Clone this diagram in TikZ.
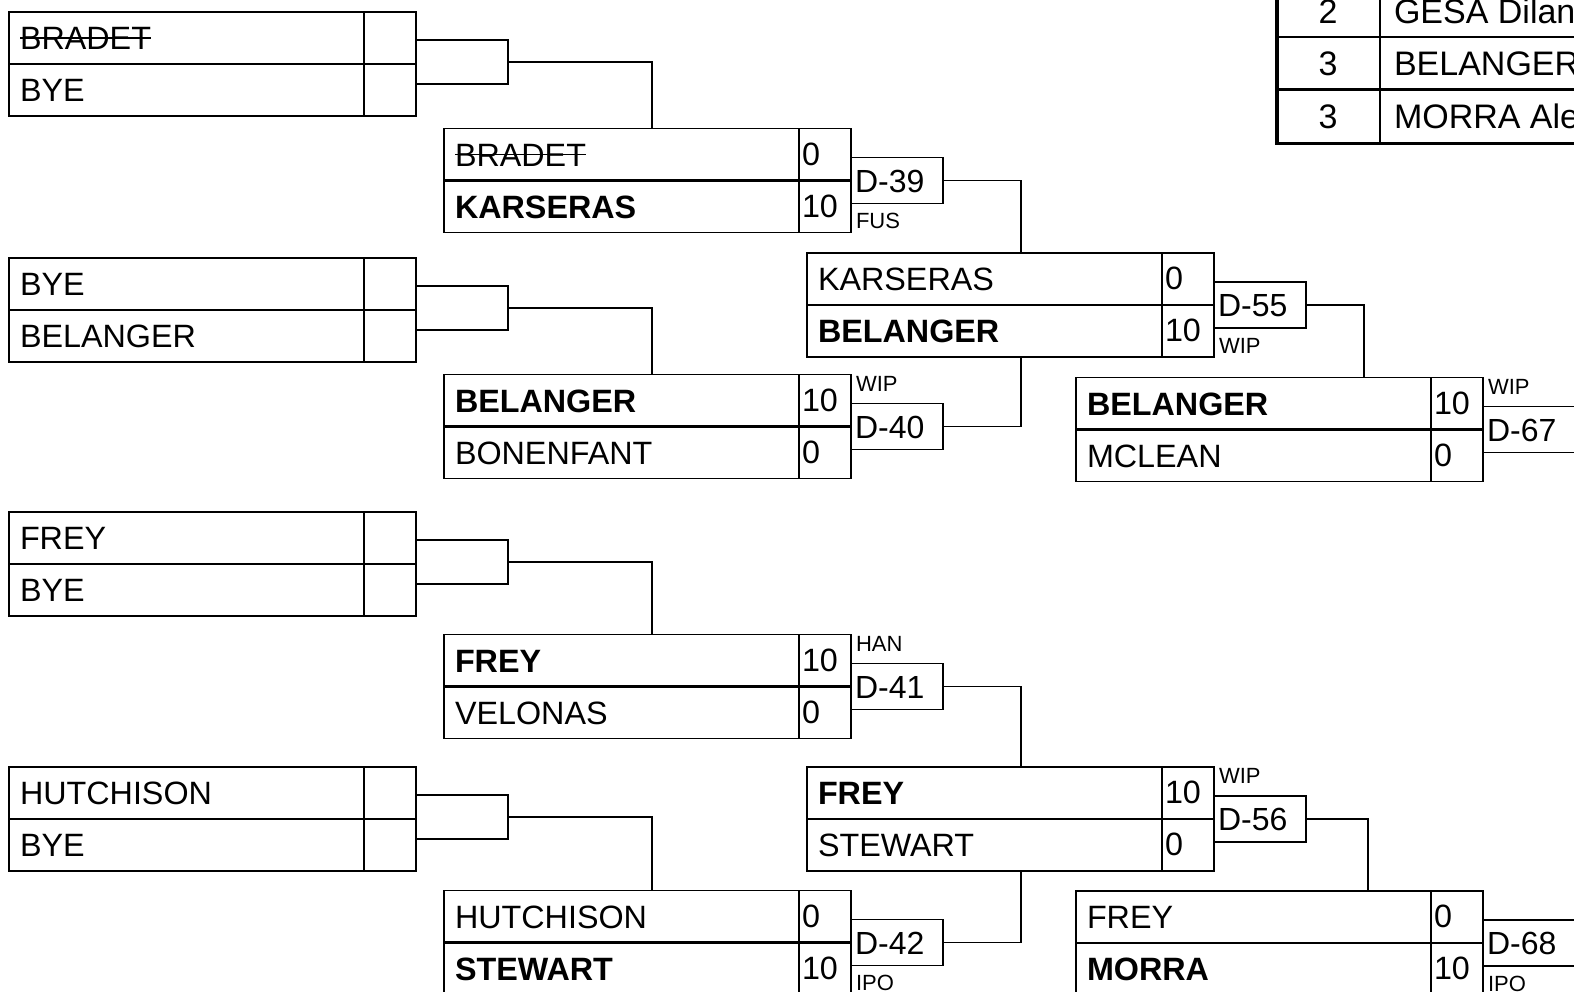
\documentclass[tikz,border=0pt]{standalone}
\usepackage{fontspec}
\setmainfont{Liberation Sans}
\usetikzlibrary{calc}
\tikzset{
 boxline/.style={line width=1.6pt},
 midline/.style={line width=2.1pt},
 conn/.style={line width=1.4pt},
 strikeline/.style={line width=1.8pt},
 nametxt/.style={anchor=west, inner sep=0pt, outer sep=0pt, text height=23pt, text depth=0pt, font=\fontsize{32.3}{38}\selectfont},
 dboxstyle/.style={draw, line width=1.3pt, anchor=west, minimum width=92pt, minimum height=46pt, inner xsep=4pt, inner ysep=0pt, outer sep=0pt, text width=84pt, align=left, text height=23pt, text depth=0pt, font=\fontsize{32}{38}\selectfont},
 smalltxt/.style={inner sep=0pt, outer sep=0pt, text height=15.8pt, text depth=0pt, font=\fontsize{22}{26}\selectfont},
 matchframe/.style={draw, line width=1.6pt, anchor=north west, minimum width=407pt, minimum height=104pt, inner sep=0pt, outer sep=0pt},
 tabtxt/.style={inner sep=0pt, outer sep=0pt, text height=24pt, text depth=0pt, font=\fontsize{34}{40}\selectfont},
}
\newcommand\matchbox[7]{%
 \node[matchframe] (#1) at (#2,#3) {};
 \draw[boxline] ([xshift=355pt]#1.north west) -- ([xshift=355pt]#1.south west);
 \draw[midline] (#1.west) -- (#1.east);
 \node[nametxt] (#1-t) at ($(#1.north west)+(11,26)$) {#4};
 \node[nametxt] (#1-b) at ($(#1.north west)+(11,78)$) {#5};
 \node[nametxt] (#1-ts) at ($(#1.north west)+(358,25)$) {#6};
 \node[nametxt] (#1-bs) at ($(#1.north west)+(358,77)$) {#7};
}
\newcommand\byebracket[1]{%
 \draw[conn] ($(#1.north east)+(0,28)$) -- ++(92,0) -- ++(0,44) -- ++(-92,0);
 \coordinate (#1-br) at ($(#1.north east)+(92,50)$);
}
\newcommand\dmatch[3]{\node[dboxstyle] (#1) at (#2.east) {#3};}
\newcommand\labelabove[3]{\node[smalltxt, anchor=north west] (#1) at ($(#2.north east)+(5,1)$) {#3};}
\newcommand\labelbelow[3]{\node[smalltxt, anchor=base west] (#1) at ($(#2.south east)+(5,-4)$) {#3};}
\begin{document}
\begin{tikzpicture}[x=1pt,y=-1pt]
\useasboundingbox (0,0) rectangle (1574,991);
% round 1
\matchbox{r1a}{9}{12}{BRADET}{BYE}{}{}
\matchbox{r1b}{9}{258}{BYE}{BELANGER}{}{}
\matchbox{r1c}{9}{512}{FREY}{BYE}{}{}
\matchbox{r1d}{9}{767}{HUTCHISON}{BYE}{}{}
\draw[strikeline] (r1a-t.west) -- (r1a-t.east);
\byebracket{r1a}\byebracket{r1b}\byebracket{r1c}\byebracket{r1d}
% round 2
\matchbox{ma}{444}{128.5}{BRADET}{\bfseries KARSERAS}{0}{10}
\matchbox{mb}{444}{374.5}{\bfseries BELANGER}{BONENFANT}{10}{0}
\matchbox{mc}{444}{634.5}{\bfseries FREY}{VELONAS}{10}{0}
\matchbox{md}{444}{890.5}{HUTCHISON}{\bfseries STEWART}{0}{10}
\draw[strikeline] (ma-t.west) -- (ma-t.east);
% round 3
\matchbox{me}{807}{253}{KARSERAS}{\bfseries BELANGER}{0}{10}
\matchbox{mf}{807}{767}{\bfseries FREY}{STEWART}{10}{0}
% round 4
\matchbox{mg}{1076}{377.5}{\bfseries BELANGER}{MCLEAN}{10}{0}
\matchbox{mh}{1076}{891}{FREY}{\bfseries MORRA}{0}{10}
% match numbers
\dmatch{d39}{ma}{D-39}\labelbelow{l39}{ma}{FUS}
\dmatch{d40}{mb}{D-40}\labelabove{l40}{mb}{WIP}
\dmatch{d41}{mc}{D-41}\labelabove{l41}{mc}{HAN}
\dmatch{d42}{md}{D-42}\labelbelow{l42}{md}{IPO}
\dmatch{d55}{me}{D-55}\labelbelow{l55}{me}{WIP}
\dmatch{d56}{mf}{D-56}\labelabove{l56}{mf}{WIP}
\dmatch{d67}{mg}{D-67}\labelabove{l67}{mg}{WIP}
\dmatch{d68}{mh}{D-68}\labelbelow{l68}{mh}{IPO}
% connectors
\coordinate (k1) at (652,0);
\coordinate (k2) at (1021,0);
\coordinate (k3) at (1364,0);
\coordinate (k4) at (1368,0);
\draw[conn] (r1a-br) -| (k1 |- ma.north);
\draw[conn] (r1b-br) -| (k1 |- mb.north);
\draw[conn] (r1c-br) -| (k1 |- mc.north);
\draw[conn] (r1d-br) -| (k1 |- md.north);
\draw[conn] (d39.east) -| (k2 |- me.north);
\draw[conn] (d40.east) -| (k2 |- me.south);
\draw[conn] (d41.east) -| (k2 |- mf.north);
\draw[conn] (d42.east) -| (k2 |- mf.south);
\draw[conn] (d55.east) -| (k3 |- mg.north);
\draw[conn] (d56.east) -| (k4 |- mh.north);
% ranking table
\draw[line width=2.5pt] (1380,-5) -- (1380,143.5);
\draw[line width=2.5pt] (1277,37) -- (1580,37);
\draw[line width=2.5pt] (1277,89.5) -- (1580,89.5);
\draw[line width=3.5pt] (1277,-5) -- (1277,143.5) -- (1580,143.5);
\node[tabtxt] (p1) at (1328,11) {2};
\node[tabtxt] (p2) at (1328,63) {3};
\node[tabtxt] (p3) at (1328,116.5) {3};
\node[tabtxt, anchor=west] (n1) at (1394,11) {GESA Dilan};
\node[tabtxt, anchor=west] (n2) at (1394,63) {BELANGER};
\node[tabtxt, anchor=west] (n3) at (1394,116.5) {MORRA Ale};
\end{tikzpicture}
\end{document}
